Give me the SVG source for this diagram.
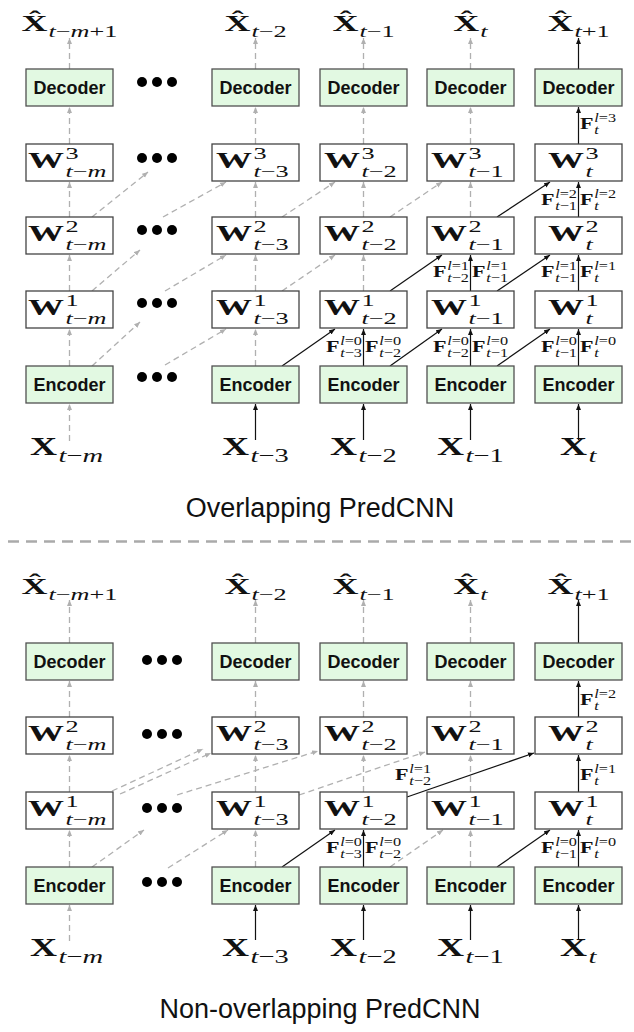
<svg xmlns="http://www.w3.org/2000/svg" width="634" height="1032" viewBox="0 0 634 1032">
<style>
.cd{fill:#e2f9e2;stroke:#505050;stroke-width:1.3}
.wb{fill:#fff;stroke:#444;stroke-width:1.3}
.lbl{font-family:"Liberation Sans",Arial,sans-serif;font-weight:bold;font-size:18px;text-anchor:middle;fill:#111}
.big{font-family:"Liberation Serif","Times New Roman",serif;font-weight:bold;font-size:24px;fill:#111}
.big2{font-family:"Liberation Serif","Times New Roman",serif;font-weight:bold;font-size:25px;fill:#111}
.sc{font-weight:normal;font-size:17.5px}
.sc2{font-weight:normal;font-size:19px}
.fb{font-family:"Liberation Serif","Times New Roman",serif;font-weight:bold;font-size:17px;fill:#111}
.fs{font-weight:normal;font-size:12.5px}
.it{font-style:italic}
.g{stroke:#b0b0b0;stroke-width:1.3;stroke-dasharray:6 4;fill:none;marker-end:url(#ag)}
.k{stroke:#111;stroke-width:1.2;fill:none;marker-end:url(#ak)}
.dot{fill:#000}
.title{font-family:"Liberation Sans",Arial,sans-serif;font-size:27px;text-anchor:middle;fill:#111}
</style>
<defs>
<marker id="ak" markerUnits="userSpaceOnUse" markerWidth="7" markerHeight="6" refX="6" refY="3" orient="auto"><path d="M0,0.5 L6,3 L0,5.5 z" fill="#111"/></marker>
<marker id="ag" markerUnits="userSpaceOnUse" markerWidth="7" markerHeight="6" refX="6" refY="3" orient="auto"><path d="M0,0.5 L6,3 L0,5.5 z" fill="#b0b0b0"/></marker>
</defs>

<!-- ================= TOP: Overlapping ================= -->
<g id="connectors-top">
<line class="g" x1="69.5" y1="441" x2="69.5" y2="404"/>
<line class="g" x1="69.5" y1="366" x2="69.5" y2="329"/>
<line class="g" x1="69.5" y1="291" x2="69.5" y2="255"/>
<line class="g" x1="69.5" y1="217" x2="69.5" y2="182"/>
<line class="g" x1="69.5" y1="144" x2="69.5" y2="107"/>
<line class="g" x1="69.5" y1="69" x2="69.5" y2="38"/>
<line class="k" x1="255.5" y1="440" x2="255.5" y2="404"/>
<line class="g" x1="255.5" y1="366" x2="255.5" y2="329"/>
<line class="g" x1="255.5" y1="291" x2="255.5" y2="255"/>
<line class="g" x1="255.5" y1="217" x2="255.5" y2="182"/>
<line class="g" x1="255.5" y1="144" x2="255.5" y2="107"/>
<line class="g" x1="255.5" y1="69" x2="255.5" y2="38"/>
<line class="k" x1="363.5" y1="440" x2="363.5" y2="404"/>
<line class="k" x1="363.5" y1="366" x2="363.5" y2="329"/>
<line class="g" x1="363.5" y1="291" x2="363.5" y2="255"/>
<line class="g" x1="363.5" y1="217" x2="363.5" y2="182"/>
<line class="g" x1="363.5" y1="144" x2="363.5" y2="107"/>
<line class="g" x1="363.5" y1="69" x2="363.5" y2="38"/>
<line class="k" x1="470.5" y1="440" x2="470.5" y2="404"/>
<line class="k" x1="470.5" y1="366" x2="470.5" y2="329"/>
<line class="k" x1="470.5" y1="291" x2="470.5" y2="255"/>
<line class="g" x1="470.5" y1="217" x2="470.5" y2="182"/>
<line class="g" x1="470.5" y1="144" x2="470.5" y2="107"/>
<line class="g" x1="470.5" y1="69" x2="470.5" y2="38"/>
<line class="k" x1="578.5" y1="440" x2="578.5" y2="404"/>
<line class="k" x1="578.5" y1="366" x2="578.5" y2="329"/>
<line class="k" x1="578.5" y1="291" x2="578.5" y2="255"/>
<line class="k" x1="578.5" y1="217" x2="578.5" y2="182"/>
<line class="k" x1="578.5" y1="144" x2="578.5" y2="107"/>
<line class="k" x1="578.5" y1="69" x2="578.5" y2="38"/>
<line class="k" x1="282" y1="366" x2="335" y2="329"/>
<line class="k" x1="390" y1="366" x2="442" y2="329"/>
<line class="k" x1="497" y1="366" x2="550" y2="329"/>
<line class="k" x1="390" y1="291" x2="442" y2="255"/>
<line class="k" x1="497" y1="291" x2="550" y2="255"/>
<line class="k" x1="497" y1="217" x2="550" y2="182"/>
<line class="g" x1="92" y1="366" x2="140" y2="322"/>
<line class="g" x1="165" y1="365" x2="226" y2="329"/>
<line class="g" x1="92" y1="291" x2="140" y2="250"/>
<line class="g" x1="165" y1="291" x2="226" y2="255"/>
<line class="g" x1="92" y1="217" x2="148" y2="172"/>
<line class="g" x1="163" y1="217" x2="226" y2="182"/>
<line class="g" x1="282" y1="291" x2="335" y2="255"/>
<line class="g" x1="282" y1="217" x2="335" y2="182"/>
<line class="g" x1="390" y1="217" x2="442" y2="182"/>
</g>

<g id="dots-top">
<circle class="dot" cx="142" cy="82" r="5"/><circle class="dot" cx="157" cy="82" r="5"/><circle class="dot" cx="172" cy="82" r="5"/>
<circle class="dot" cx="142" cy="158" r="5"/><circle class="dot" cx="157" cy="158" r="5"/><circle class="dot" cx="172" cy="158" r="5"/>
<circle class="dot" cx="142" cy="230" r="5"/><circle class="dot" cx="157" cy="230" r="5"/><circle class="dot" cx="172" cy="230" r="5"/>
<circle class="dot" cx="142" cy="303" r="5"/><circle class="dot" cx="157" cy="303" r="5"/><circle class="dot" cx="172" cy="303" r="5"/>
<circle class="dot" cx="142" cy="377" r="5"/><circle class="dot" cx="157" cy="377" r="5"/><circle class="dot" cx="172" cy="377" r="5"/>
</g>

<g id="dec-tm"><rect class="cd" x="26" y="69" width="87" height="37"/><text class="lbl" x="69.5" y="94">Decoder</text></g>
<g id="dec-t3"><rect class="cd" x="212" y="69" width="87" height="37"/><text class="lbl" x="255.5" y="94">Decoder</text></g>
<g id="dec-t2"><rect class="cd" x="320" y="69" width="87" height="37"/><text class="lbl" x="363.5" y="94">Decoder</text></g>
<g id="dec-t1"><rect class="cd" x="427" y="69" width="87" height="37"/><text class="lbl" x="470.5" y="94">Decoder</text></g>
<g id="dec-t"><rect class="cd" x="535" y="69" width="87" height="37"/><text class="lbl" x="578.5" y="94">Decoder</text></g>
<g id="enc-tm"><rect class="cd" x="26" y="366" width="87" height="37"/><text class="lbl" x="69.5" y="391">Encoder</text></g>
<g id="enc-t3"><rect class="cd" x="212" y="366" width="87" height="37"/><text class="lbl" x="255.5" y="391">Encoder</text></g>
<g id="enc-t2"><rect class="cd" x="320" y="366" width="87" height="37"/><text class="lbl" x="363.5" y="391">Encoder</text></g>
<g id="enc-t1"><rect class="cd" x="427" y="366" width="87" height="37"/><text class="lbl" x="470.5" y="391">Encoder</text></g>
<g id="enc-t"><rect class="cd" x="535" y="366" width="87" height="37"/><text class="lbl" x="578.5" y="391">Encoder</text></g>

<g id="w3-tm"><rect class="wb" x="26" y="144" width="87" height="37"/><text class="big" transform="translate(28,167.5) scale(1.5,1)">W<tspan class="sc" x="25" y="-9">3</tspan><tspan class="sc" x="25" y="9.5"><tspan class="it">t</tspan>−<tspan class="it">m</tspan></tspan></text></g>
<g id="w3-t3"><rect class="wb" x="212" y="144" width="87" height="37"/><text class="big" transform="translate(216,167.5) scale(1.5,1)">W<tspan class="sc" x="25" y="-9">3</tspan><tspan class="sc" x="25" y="9.5"><tspan class="it">t</tspan>−3</tspan></text></g>
<g id="w3-t2"><rect class="wb" x="320" y="144" width="87" height="37"/><text class="big" transform="translate(324,167.5) scale(1.5,1)">W<tspan class="sc" x="25" y="-9">3</tspan><tspan class="sc" x="25" y="9.5"><tspan class="it">t</tspan>−2</tspan></text></g>
<g id="w3-t1"><rect class="wb" x="427" y="144" width="87" height="37"/><text class="big" transform="translate(431,167.5) scale(1.5,1)">W<tspan class="sc" x="25" y="-9">3</tspan><tspan class="sc" x="25" y="9.5"><tspan class="it">t</tspan>−1</tspan></text></g>
<g id="w3-t"><rect class="wb" x="535" y="144" width="87" height="37"/><text class="big" transform="translate(548,167.5) scale(1.5,1)">W<tspan class="sc" x="25" y="-9">3</tspan><tspan class="sc it" x="25" y="9.5">t</tspan></text></g>
<g id="w2-tm"><rect class="wb" x="26" y="217" width="87" height="37"/><text class="big" transform="translate(28,240.5) scale(1.5,1)">W<tspan class="sc" x="25" y="-9">2</tspan><tspan class="sc" x="25" y="9.5"><tspan class="it">t</tspan>−<tspan class="it">m</tspan></tspan></text></g>
<g id="w2-t3"><rect class="wb" x="212" y="217" width="87" height="37"/><text class="big" transform="translate(216,240.5) scale(1.5,1)">W<tspan class="sc" x="25" y="-9">2</tspan><tspan class="sc" x="25" y="9.5"><tspan class="it">t</tspan>−3</tspan></text></g>
<g id="w2-t2"><rect class="wb" x="320" y="217" width="87" height="37"/><text class="big" transform="translate(324,240.5) scale(1.5,1)">W<tspan class="sc" x="25" y="-9">2</tspan><tspan class="sc" x="25" y="9.5"><tspan class="it">t</tspan>−2</tspan></text></g>
<g id="w2-t1"><rect class="wb" x="427" y="217" width="87" height="37"/><text class="big" transform="translate(431,240.5) scale(1.5,1)">W<tspan class="sc" x="25" y="-9">2</tspan><tspan class="sc" x="25" y="9.5"><tspan class="it">t</tspan>−1</tspan></text></g>
<g id="w2-t"><rect class="wb" x="535" y="217" width="87" height="37"/><text class="big" transform="translate(548,240.5) scale(1.5,1)">W<tspan class="sc" x="25" y="-9">2</tspan><tspan class="sc it" x="25" y="9.5">t</tspan></text></g>
<g id="w1-tm"><rect class="wb" x="26" y="291" width="87" height="37"/><text class="big" transform="translate(28,314.5) scale(1.5,1)">W<tspan class="sc" x="25" y="-9">1</tspan><tspan class="sc" x="25" y="9.5"><tspan class="it">t</tspan>−<tspan class="it">m</tspan></tspan></text></g>
<g id="w1-t3"><rect class="wb" x="212" y="291" width="87" height="37"/><text class="big" transform="translate(216,314.5) scale(1.5,1)">W<tspan class="sc" x="25" y="-9">1</tspan><tspan class="sc" x="25" y="9.5"><tspan class="it">t</tspan>−3</tspan></text></g>
<g id="w1-t2"><rect class="wb" x="320" y="291" width="87" height="37"/><text class="big" transform="translate(324,314.5) scale(1.5,1)">W<tspan class="sc" x="25" y="-9">1</tspan><tspan class="sc" x="25" y="9.5"><tspan class="it">t</tspan>−2</tspan></text></g>
<g id="w1-t1"><rect class="wb" x="427" y="291" width="87" height="37"/><text class="big" transform="translate(431,314.5) scale(1.5,1)">W<tspan class="sc" x="25" y="-9">1</tspan><tspan class="sc" x="25" y="9.5"><tspan class="it">t</tspan>−1</tspan></text></g>
<g id="w1-t"><rect class="wb" x="535" y="291" width="87" height="37"/><text class="big" transform="translate(548,314.5) scale(1.5,1)">W<tspan class="sc" x="25" y="-9">1</tspan><tspan class="sc it" x="25" y="9.5">t</tspan></text></g>

<g id="xh-tm1"><text class="big" transform="translate(21.5,31) scale(1.5,1)">X̂<tspan class="sc" x="18" y="5.5"><tspan class="it">t</tspan>−<tspan class="it">m</tspan>+1</tspan></text></g>
<g id="xh-t2"><text class="big" transform="translate(224.4,31) scale(1.5,1)">X̂<tspan class="sc" x="18" y="5.5"><tspan class="it">t</tspan>−2</tspan></text></g>
<g id="xh-t1"><text class="big" transform="translate(332.4,31) scale(1.5,1)">X̂<tspan class="sc" x="18" y="5.5"><tspan class="it">t</tspan>−1</tspan></text></g>
<g id="xh-t"><text class="big" transform="translate(453.3,31) scale(1.5,1)">X̂<tspan class="sc it" x="18" y="5.5">t</tspan></text></g>
<g id="xh-tp1"><text class="big" transform="translate(547.4,31) scale(1.5,1)">X̂<tspan class="sc" x="18" y="5.5"><tspan class="it">t</tspan>+1</tspan></text></g>
<g id="x-tm"><text class="big2" transform="translate(30,455) scale(1.5,1)">X<tspan class="sc2" x="19" y="7"><tspan class="it">t</tspan>−<tspan class="it">m</tspan></tspan></text></g>
<g id="x-t3"><text class="big2" transform="translate(222,455) scale(1.5,1)">X<tspan class="sc2" x="19" y="7"><tspan class="it">t</tspan>−3</tspan></text></g>
<g id="x-t2"><text class="big2" transform="translate(330,455) scale(1.5,1)">X<tspan class="sc2" x="19" y="7"><tspan class="it">t</tspan>−2</tspan></text></g>
<g id="x-t1"><text class="big2" transform="translate(437,455) scale(1.5,1)">X<tspan class="sc2" x="19" y="7"><tspan class="it">t</tspan>−1</tspan></text></g>
<g id="x-t"><text class="big2" transform="translate(560,455) scale(1.5,1)">X<tspan class="sc2 it" x="19" y="7">t</tspan></text></g>

<g id="f-top">
<text class="fb" transform="translate(325.9,352) scale(1.3,1)">F<tspan class="fs" x="11" y="-7"><tspan class="it">l</tspan>=0</tspan><tspan class="fs" x="11" y="5"><tspan class="it">t</tspan>−3</tspan></text>
<text class="fb" transform="translate(365,352) scale(1.3,1)">F<tspan class="fs" x="11" y="-7"><tspan class="it">l</tspan>=0</tspan><tspan class="fs" x="11" y="5"><tspan class="it">t</tspan>−2</tspan></text>
<text class="fb" transform="translate(432.9,352) scale(1.3,1)">F<tspan class="fs" x="11" y="-7"><tspan class="it">l</tspan>=0</tspan><tspan class="fs" x="11" y="5"><tspan class="it">t</tspan>−2</tspan></text>
<text class="fb" transform="translate(472,352) scale(1.3,1)">F<tspan class="fs" x="11" y="-7"><tspan class="it">l</tspan>=0</tspan><tspan class="fs" x="11" y="5"><tspan class="it">t</tspan>−1</tspan></text>
<text class="fb" transform="translate(540.9,352) scale(1.3,1)">F<tspan class="fs" x="11" y="-7"><tspan class="it">l</tspan>=0</tspan><tspan class="fs" x="11" y="5"><tspan class="it">t</tspan>−1</tspan></text>
<text class="fb" transform="translate(580,352) scale(1.3,1)">F<tspan class="fs" x="11" y="-7"><tspan class="it">l</tspan>=0</tspan><tspan class="fs it" x="11" y="5">t</tspan></text>
<text class="fb" transform="translate(432.9,277) scale(1.3,1)">F<tspan class="fs" x="11" y="-7"><tspan class="it">l</tspan>=1</tspan><tspan class="fs" x="11" y="5"><tspan class="it">t</tspan>−2</tspan></text>
<text class="fb" transform="translate(472,277) scale(1.3,1)">F<tspan class="fs" x="11" y="-7"><tspan class="it">l</tspan>=1</tspan><tspan class="fs" x="11" y="5"><tspan class="it">t</tspan>−1</tspan></text>
<text class="fb" transform="translate(540.9,277) scale(1.3,1)">F<tspan class="fs" x="11" y="-7"><tspan class="it">l</tspan>=1</tspan><tspan class="fs" x="11" y="5"><tspan class="it">t</tspan>−1</tspan></text>
<text class="fb" transform="translate(580,277) scale(1.3,1)">F<tspan class="fs" x="11" y="-7"><tspan class="it">l</tspan>=1</tspan><tspan class="fs it" x="11" y="5">t</tspan></text>
<text class="fb" transform="translate(540.9,205) scale(1.3,1)">F<tspan class="fs" x="11" y="-7"><tspan class="it">l</tspan>=2</tspan><tspan class="fs" x="11" y="5"><tspan class="it">t</tspan>−1</tspan></text>
<text class="fb" transform="translate(580,205) scale(1.3,1)">F<tspan class="fs" x="11" y="-7"><tspan class="it">l</tspan>=2</tspan><tspan class="fs it" x="11" y="5">t</tspan></text>
<text class="fb" transform="translate(580,128.5) scale(1.3,1)">F<tspan class="fs" x="11" y="-7"><tspan class="it">l</tspan>=3</tspan><tspan class="fs it" x="11" y="5">t</tspan></text>
</g>

<text class="title" x="320" y="517">Overlapping PredCNN</text>
<line x1="8" y1="541.5" x2="634" y2="541.5" stroke="#aaa" stroke-width="2.5" stroke-dasharray="11 7"/>

<!-- ================= BOTTOM: Non-overlapping ================= -->
<g id="connectors-bottom">
<line class="g" x1="69.5" y1="941" x2="69.5" y2="905"/>
<line class="g" x1="69.5" y1="867" x2="69.5" y2="830"/>
<line class="g" x1="69.5" y1="792" x2="69.5" y2="755"/>
<line class="g" x1="69.5" y1="717" x2="69.5" y2="681"/>
<line class="g" x1="69.5" y1="643" x2="69.5" y2="600"/>
<line class="k" x1="255.5" y1="940" x2="255.5" y2="905"/>
<line class="g" x1="255.5" y1="867" x2="255.5" y2="830"/>
<line class="g" x1="255.5" y1="792" x2="255.5" y2="755"/>
<line class="g" x1="255.5" y1="717" x2="255.5" y2="681"/>
<line class="g" x1="255.5" y1="643" x2="255.5" y2="600"/>
<line class="k" x1="363.5" y1="940" x2="363.5" y2="905"/>
<line class="k" x1="363.5" y1="867" x2="363.5" y2="830"/>
<line class="g" x1="363.5" y1="792" x2="363.5" y2="755"/>
<line class="g" x1="363.5" y1="717" x2="363.5" y2="681"/>
<line class="g" x1="363.5" y1="643" x2="363.5" y2="600"/>
<line class="k" x1="470.5" y1="940" x2="470.5" y2="905"/>
<line class="g" x1="470.5" y1="867" x2="470.5" y2="830"/>
<line class="g" x1="470.5" y1="792" x2="470.5" y2="755"/>
<line class="g" x1="470.5" y1="717" x2="470.5" y2="681"/>
<line class="g" x1="470.5" y1="643" x2="470.5" y2="600"/>
<line class="k" x1="578.5" y1="940" x2="578.5" y2="905"/>
<line class="k" x1="578.5" y1="867" x2="578.5" y2="830"/>
<line class="k" x1="578.5" y1="792" x2="578.5" y2="755"/>
<line class="k" x1="578.5" y1="717" x2="578.5" y2="681"/>
<line class="k" x1="578.5" y1="643" x2="578.5" y2="600"/>
<line class="k" x1="282" y1="867" x2="335" y2="830"/>
<line class="k" x1="497" y1="867" x2="550" y2="830"/>
<line class="k" x1="407" y1="797" x2="534" y2="753"/>
<line class="g" x1="92" y1="867" x2="144" y2="830"/>
<line class="g" x1="168" y1="868" x2="228" y2="830"/>
<line class="g" x1="390" y1="867" x2="443" y2="830"/>
<line class="g" x1="112" y1="791" x2="203" y2="749"/>
<line class="g" x1="120" y1="794" x2="211" y2="753"/>
<line class="g" x1="177" y1="795" x2="318" y2="751"/>
<line class="g" x1="299" y1="795" x2="425" y2="752"/>
</g>

<g id="dots-bottom">
<circle class="dot" cx="147" cy="660" r="5"/><circle class="dot" cx="162" cy="660" r="5"/><circle class="dot" cx="177" cy="660" r="5"/>
<circle class="dot" cx="147" cy="734" r="5"/><circle class="dot" cx="162" cy="734" r="5"/><circle class="dot" cx="177" cy="734" r="5"/>
<circle class="dot" cx="147" cy="808" r="5"/><circle class="dot" cx="162" cy="808" r="5"/><circle class="dot" cx="177" cy="808" r="5"/>
<circle class="dot" cx="147" cy="882" r="5"/><circle class="dot" cx="162" cy="882" r="5"/><circle class="dot" cx="177" cy="882" r="5"/>
</g>

<g id="bdec-tm"><rect class="cd" x="26" y="643" width="87" height="37"/><text class="lbl" x="69.5" y="668">Decoder</text></g>
<g id="bdec-t3"><rect class="cd" x="212" y="643" width="87" height="37"/><text class="lbl" x="255.5" y="668">Decoder</text></g>
<g id="bdec-t2"><rect class="cd" x="320" y="643" width="87" height="37"/><text class="lbl" x="363.5" y="668">Decoder</text></g>
<g id="bdec-t1"><rect class="cd" x="427" y="643" width="87" height="37"/><text class="lbl" x="470.5" y="668">Decoder</text></g>
<g id="bdec-t"><rect class="cd" x="535" y="643" width="87" height="37"/><text class="lbl" x="578.5" y="668">Decoder</text></g>
<g id="benc-tm"><rect class="cd" x="26" y="867" width="87" height="37"/><text class="lbl" x="69.5" y="892">Encoder</text></g>
<g id="benc-t3"><rect class="cd" x="212" y="867" width="87" height="37"/><text class="lbl" x="255.5" y="892">Encoder</text></g>
<g id="benc-t2"><rect class="cd" x="320" y="867" width="87" height="37"/><text class="lbl" x="363.5" y="892">Encoder</text></g>
<g id="benc-t1"><rect class="cd" x="427" y="867" width="87" height="37"/><text class="lbl" x="470.5" y="892">Encoder</text></g>
<g id="benc-t"><rect class="cd" x="535" y="867" width="87" height="37"/><text class="lbl" x="578.5" y="892">Encoder</text></g>

<g id="bw2-tm"><rect class="wb" x="26" y="717" width="87" height="37"/><text class="big" transform="translate(28,740.5) scale(1.5,1)">W<tspan class="sc" x="25" y="-9">2</tspan><tspan class="sc" x="25" y="9.5"><tspan class="it">t</tspan>−<tspan class="it">m</tspan></tspan></text></g>
<g id="bw2-t3"><rect class="wb" x="212" y="717" width="87" height="37"/><text class="big" transform="translate(216,740.5) scale(1.5,1)">W<tspan class="sc" x="25" y="-9">2</tspan><tspan class="sc" x="25" y="9.5"><tspan class="it">t</tspan>−3</tspan></text></g>
<g id="bw2-t2"><rect class="wb" x="320" y="717" width="87" height="37"/><text class="big" transform="translate(324,740.5) scale(1.5,1)">W<tspan class="sc" x="25" y="-9">2</tspan><tspan class="sc" x="25" y="9.5"><tspan class="it">t</tspan>−2</tspan></text></g>
<g id="bw2-t1"><rect class="wb" x="427" y="717" width="87" height="37"/><text class="big" transform="translate(431,740.5) scale(1.5,1)">W<tspan class="sc" x="25" y="-9">2</tspan><tspan class="sc" x="25" y="9.5"><tspan class="it">t</tspan>−1</tspan></text></g>
<g id="bw2-t"><rect class="wb" x="535" y="717" width="87" height="37"/><text class="big" transform="translate(548,740.5) scale(1.5,1)">W<tspan class="sc" x="25" y="-9">2</tspan><tspan class="sc it" x="25" y="9.5">t</tspan></text></g>
<g id="bw1-tm"><rect class="wb" x="26" y="792" width="87" height="37"/><text class="big" transform="translate(28,815.5) scale(1.5,1)">W<tspan class="sc" x="25" y="-9">1</tspan><tspan class="sc" x="25" y="9.5"><tspan class="it">t</tspan>−<tspan class="it">m</tspan></tspan></text></g>
<g id="bw1-t3"><rect class="wb" x="212" y="792" width="87" height="37"/><text class="big" transform="translate(216,815.5) scale(1.5,1)">W<tspan class="sc" x="25" y="-9">1</tspan><tspan class="sc" x="25" y="9.5"><tspan class="it">t</tspan>−3</tspan></text></g>
<g id="bw1-t2"><rect class="wb" x="320" y="792" width="87" height="37"/><text class="big" transform="translate(324,815.5) scale(1.5,1)">W<tspan class="sc" x="25" y="-9">1</tspan><tspan class="sc" x="25" y="9.5"><tspan class="it">t</tspan>−2</tspan></text></g>
<g id="bw1-t1"><rect class="wb" x="427" y="792" width="87" height="37"/><text class="big" transform="translate(431,815.5) scale(1.5,1)">W<tspan class="sc" x="25" y="-9">1</tspan><tspan class="sc" x="25" y="9.5"><tspan class="it">t</tspan>−1</tspan></text></g>
<g id="bw1-t"><rect class="wb" x="535" y="792" width="87" height="37"/><text class="big" transform="translate(548,815.5) scale(1.5,1)">W<tspan class="sc" x="25" y="-9">1</tspan><tspan class="sc it" x="25" y="9.5">t</tspan></text></g>

<g id="bxh-tm1"><text class="big" transform="translate(21.5,594) scale(1.5,1)">X̂<tspan class="sc" x="18" y="5.5"><tspan class="it">t</tspan>−<tspan class="it">m</tspan>+1</tspan></text></g>
<g id="bxh-t2"><text class="big" transform="translate(224.4,594) scale(1.5,1)">X̂<tspan class="sc" x="18" y="5.5"><tspan class="it">t</tspan>−2</tspan></text></g>
<g id="bxh-t1"><text class="big" transform="translate(332.4,594) scale(1.5,1)">X̂<tspan class="sc" x="18" y="5.5"><tspan class="it">t</tspan>−1</tspan></text></g>
<g id="bxh-t"><text class="big" transform="translate(453.3,594) scale(1.5,1)">X̂<tspan class="sc it" x="18" y="5.5">t</tspan></text></g>
<g id="bxh-tp1"><text class="big" transform="translate(547.4,594) scale(1.5,1)">X̂<tspan class="sc" x="18" y="5.5"><tspan class="it">t</tspan>+1</tspan></text></g>
<g id="bx-tm"><text class="big2" transform="translate(30,956) scale(1.5,1)">X<tspan class="sc2" x="19" y="7"><tspan class="it">t</tspan>−<tspan class="it">m</tspan></tspan></text></g>
<g id="bx-t3"><text class="big2" transform="translate(222,956) scale(1.5,1)">X<tspan class="sc2" x="19" y="7"><tspan class="it">t</tspan>−3</tspan></text></g>
<g id="bx-t2"><text class="big2" transform="translate(330,956) scale(1.5,1)">X<tspan class="sc2" x="19" y="7"><tspan class="it">t</tspan>−2</tspan></text></g>
<g id="bx-t1"><text class="big2" transform="translate(437,956) scale(1.5,1)">X<tspan class="sc2" x="19" y="7"><tspan class="it">t</tspan>−1</tspan></text></g>
<g id="bx-t"><text class="big2" transform="translate(560,956) scale(1.5,1)">X<tspan class="sc2 it" x="19" y="7">t</tspan></text></g>

<g id="f-bottom">
<text class="fb" transform="translate(325.9,853) scale(1.3,1)">F<tspan class="fs" x="11" y="-7"><tspan class="it">l</tspan>=0</tspan><tspan class="fs" x="11" y="5"><tspan class="it">t</tspan>−3</tspan></text>
<text class="fb" transform="translate(365,853) scale(1.3,1)">F<tspan class="fs" x="11" y="-7"><tspan class="it">l</tspan>=0</tspan><tspan class="fs" x="11" y="5"><tspan class="it">t</tspan>−2</tspan></text>
<text class="fb" transform="translate(540.9,853) scale(1.3,1)">F<tspan class="fs" x="11" y="-7"><tspan class="it">l</tspan>=0</tspan><tspan class="fs" x="11" y="5"><tspan class="it">t</tspan>−1</tspan></text>
<text class="fb" transform="translate(580,853) scale(1.3,1)">F<tspan class="fs" x="11" y="-7"><tspan class="it">l</tspan>=0</tspan><tspan class="fs it" x="11" y="5">t</tspan></text>
<text class="fb" transform="translate(580,780) scale(1.3,1)">F<tspan class="fs" x="11" y="-7"><tspan class="it">l</tspan>=1</tspan><tspan class="fs it" x="11" y="5">t</tspan></text>
<text class="fb" transform="translate(580,705) scale(1.3,1)">F<tspan class="fs" x="11" y="-7"><tspan class="it">l</tspan>=2</tspan><tspan class="fs it" x="11" y="5">t</tspan></text>
<text class="fb" transform="translate(395,780) scale(1.3,1)">F<tspan class="fs" x="11" y="-7"><tspan class="it">l</tspan>=1</tspan><tspan class="fs" x="11" y="5"><tspan class="it">t</tspan>−2</tspan></text>
</g>

<text class="title" x="320" y="1018">Non-overlapping PredCNN</text>
</svg>
